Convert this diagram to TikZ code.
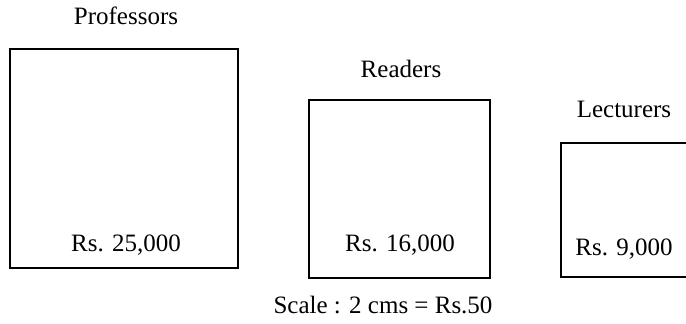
\documentclass[tikz,border=0pt]{standalone}
\usepackage{fontspec}
\setmainfont{Liberation Serif}
\begin{document}
\begin{tikzpicture}[x=1pt,y=-1pt,
  salbox/.style={draw=black,line width=1.4pt},
  lbl/.style={inner sep=0pt,font=\fontsize{25}{28}\selectfont}]
\useasboundingbox (0,0) rectangle (686,324);
\clip (0,0) rectangle (686,324);
\draw[salbox] (10,49) rectangle (238,268);
\draw[salbox] (309,100) rectangle (490,278);
\draw[salbox] (561,143) rectangle (700,277);
\node[lbl,anchor=base] (prof) at (126,24) {Professors};
\node[lbl,anchor=base] (read) at (401,77) {Readers};
\node[lbl,anchor=base] (lect) at (624,117) {Lecturers};
\node[lbl,anchor=base] (v1) at (126,251) {Rs. 25,000};
\node[lbl,anchor=base] (v2) at (400,251) {Rs. 16,000};
\node[lbl,anchor=base] (v3) at (624,255) {Rs. 9,000};
\node[lbl,anchor=base] (scale) at (383,313) {Scale : 2 cms = Rs.50};
\end{tikzpicture}
\end{document}
